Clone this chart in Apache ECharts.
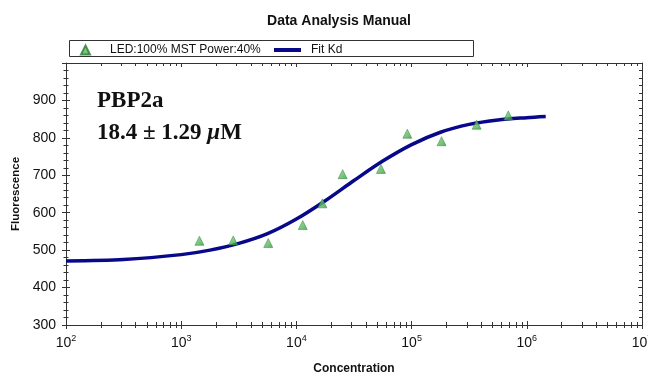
<!DOCTYPE html>
<html>
<head>
<meta charset="utf-8">
<script src="https://cdn.jsdelivr.net/npm/echarts@6/dist/echarts.min.js"></script>
<style>html,body{margin:0;padding:0;background:#fff;}#c{width:648px;height:373px;}</style>
</head>
<body>
<div id="c"></div>
<script>
// Measured data points (concentration, fluorescence)
const concentrations = [1440, 2830, 5700, 11350, 16800, 25200, 54200, 91800, 182000, 367000, 690000];
const fluorescence = [525, 526, 519, 567, 625, 703, 717, 811, 791, 835, 860];
// Fit curve samples
const fitConc = [100, 316, 1000, 1780, 3160, 5620, 10000, 17800, 31600, 56200, 100000, 178000, 316000, 562000, 1000000, 1460000];
const fitValues = [471, 475, 488, 500, 518, 544, 583, 632, 686, 738, 782, 815, 836, 848, 854, 857];
// Axis ticks
const yTicks = [300, 400, 500, 600, 700, 800, 900];
const xDecades = [2, 3, 4, 5, 6, 7];
const minorMultipliers = [2, 3, 4, 5, 6, 7, 8, 9];

const pointData = concentrations.map((c, i) => [c, fluorescence[i]]);
const fitData = fitConc.map((c, i) => [c, fitValues[i]]);

const AX = '#333';
const chart = echarts.init(document.getElementById('c'), null, {renderer: 'canvas'});
const logBase = {type: 'log', logBase: 10, min: 100, max: 1e7, splitLine: {show: false}, minorSplitLine:{show:false}};
const option = {
  animation: false,
  textStyle: {fontFamily: 'Liberation Sans, Arial, sans-serif'},
  title: {
    text: 'Data Analysis Manual', left: 334, top: 9, textAlign: 'center',
    textStyle: {fontSize: 14, fontWeight: 'bold', color: '#111', fontFamily: 'Liberation Sans, Arial, sans-serif'}
  },
  legend: [
    {data: ['LED:100% MST Power:40%'], left: 75, top: 39, itemWidth: 9, itemHeight: 9, itemGap: 0,
     textStyle: {fontSize: 12, color: '#111', padding: [0, 0, 0, 15]}},
    {data: [{name: 'Fit Kd', icon: 'rect'}], left: 269, top: 39, itemWidth: 27, itemHeight: 4,
     textStyle: {fontSize: 12, color: '#111', padding: [0, 0, 0, 5]}}
  ],
  graphic: [
    {type: 'rect', left: 67, top: 38, shape: {width: 404, height: 16}, style: {fill: 'none', stroke: '#333', lineWidth: 1}, silent: true},
    {type: 'text', left: 97, top: 90, style: {text: 'PBP2a', font: 'bold 23px "Liberation Serif", "Times New Roman", serif', fill: '#111'}},
    {type: 'text', left: 97, top: 122, style: {
      text: '{a|18.4 ± 1.29 }{i|μ}{a|M}',
      rich: {
        a: {font: 'bold 23px "Liberation Serif", "Times New Roman", serif', fill: '#111'},
        i: {font: 'italic bold 23px "Liberation Serif", "Times New Roman", serif', fill: '#111'}
      }
    }}
  ],
  grid: {left: 66, right: 6, top: 63, bottom: 48, containLabel: false, outerBoundsMode: 'none'},
  xAxis: [
    Object.assign({}, logBase, {
      position: 'bottom', name: 'Concentration', nameLocation: 'middle', nameGap: 38,
      nameTextStyle: {fontSize: 12, fontWeight: 'bold', color: '#111'},
      axisLine: {show: true, lineStyle: {color: AX, width: 1}},
      axisTick: {show: true, inside: false, length: 4, lineStyle: {color: AX}},
      axisLabel: {
        margin: 9, color: '#111',
        formatter: v => '{b|10}{s|' + Math.round(Math.log10(v)) + '}',
        rich: {b: {fontSize: 14, color: '#111'}, s: {fontSize: 9, color: '#111', padding: [0, 0, 9, 0]}}
      }
    }),
    Object.assign({}, logBase, {
      position: 'bottom', axisLine: {show: false},
      axisTick: {show: true, inside: true, length: 4, lineStyle: {color: AX}}, axisLabel: {show: false}
    }),
    Object.assign({}, logBase, {
      position: 'top', axisLine: {show: true, lineStyle: {color: AX, width: 1}},
      axisTick: {show: true, inside: true, length: 4, lineStyle: {color: AX}}, axisLabel: {show: false}
    })
  ],
  yAxis: [
    {
      type: 'value', min: 300, max: 1000, interval: 100, position: 'left',
      name: 'Fluorescence', nameLocation: 'middle', nameGap: 36,
      nameTextStyle: {fontSize: 11.5, fontWeight: 'bold', color: '#111'},
      splitLine: {show: false},
      axisLine: {show: true, lineStyle: {color: AX, width: 1}},
      axisTick: {show: true, inside: false, length: 4, lineStyle: {color: AX}},
      minorTick: {show: true, splitNumber: 5, length: 2.5, lineStyle: {color: AX}},
      axisLabel: {margin: 10, fontSize: 14, color: '#111',
        formatter: v => (yTicks.indexOf(v) >= 0 ? String(v) : '')}
    },
    {
      type: 'value', min: 300, max: 1000, interval: 100, position: 'left',
      splitLine: {show: false}, axisLine: {show: false},
      axisTick: {show: true, inside: true, length: 4, lineStyle: {color: AX}},
      minorTick: {show: true, splitNumber: 5, length: 2.5, lineStyle: {color: AX}},
      axisLabel: {show: false}
    },
    {
      type: 'value', min: 300, max: 1000, interval: 100, position: 'right',
      splitLine: {show: false}, axisLine: {show: true, lineStyle: {color: AX, width: 1}},
      axisTick: {show: true, inside: true, length: 4, lineStyle: {color: AX}},
      minorTick: {show: true, splitNumber: 5, length: 3, lineStyle: {color: AX}},
      axisLabel: {show: false}
    }
  ],
  series: [
    {
      type: 'custom', name: 'minorTicks', xAxisIndex: 0, yAxisIndex: 0, silent: true, clip: false, z: 1,
      data: [[100, 300]],
      renderItem: (params, api) => {
        const cs = params.coordSys;
        const children = [];
        const bottom = cs.y + cs.height, top = cs.y;
        xDecades.slice(0, -1).forEach(e => {
          minorMultipliers.forEach(m => {
            const px = Math.round(api.coord([m * Math.pow(10, e), 300])[0]) + 0.5;
            children.push({type: 'line', shape: {x1: px, y1: bottom - 3, x2: px, y2: bottom + 3}, style: {stroke: AX, lineWidth: 1}});
            children.push({type: 'line', shape: {x1: px, y1: top, x2: px, y2: top + 3}, style: {stroke: AX, lineWidth: 1}});
          });
        });
        return {type: 'group', children};
      }
    },
    {
      type: 'line', name: 'Fit Kd', xAxisIndex: 0, yAxisIndex: 0, data: fitData, smooth: 0.3,
      showSymbol: false, symbol: 'none', z: 3,
      lineStyle: {color: '#08088a', width: 3.5}, itemStyle: {color: '#08088a'}
    },
    {
      type: 'scatter', name: 'LED:100% MST Power:40%', xAxisIndex: 0, yAxisIndex: 0, data: pointData,
      symbol: 'triangle', symbolSize: [9, 9], z: 4,
      itemStyle: {
        color: new echarts.graphic.LinearGradient(0, 0, 1, 1, [{offset: 0, color: '#8fdc8f'}, {offset: 1, color: '#2f9a3a'}]),
        borderColor: '#2a7a30', borderWidth: 0.6
      }
    }
  ]
};
chart.setOption(option);
</script>
</body>
</html>
